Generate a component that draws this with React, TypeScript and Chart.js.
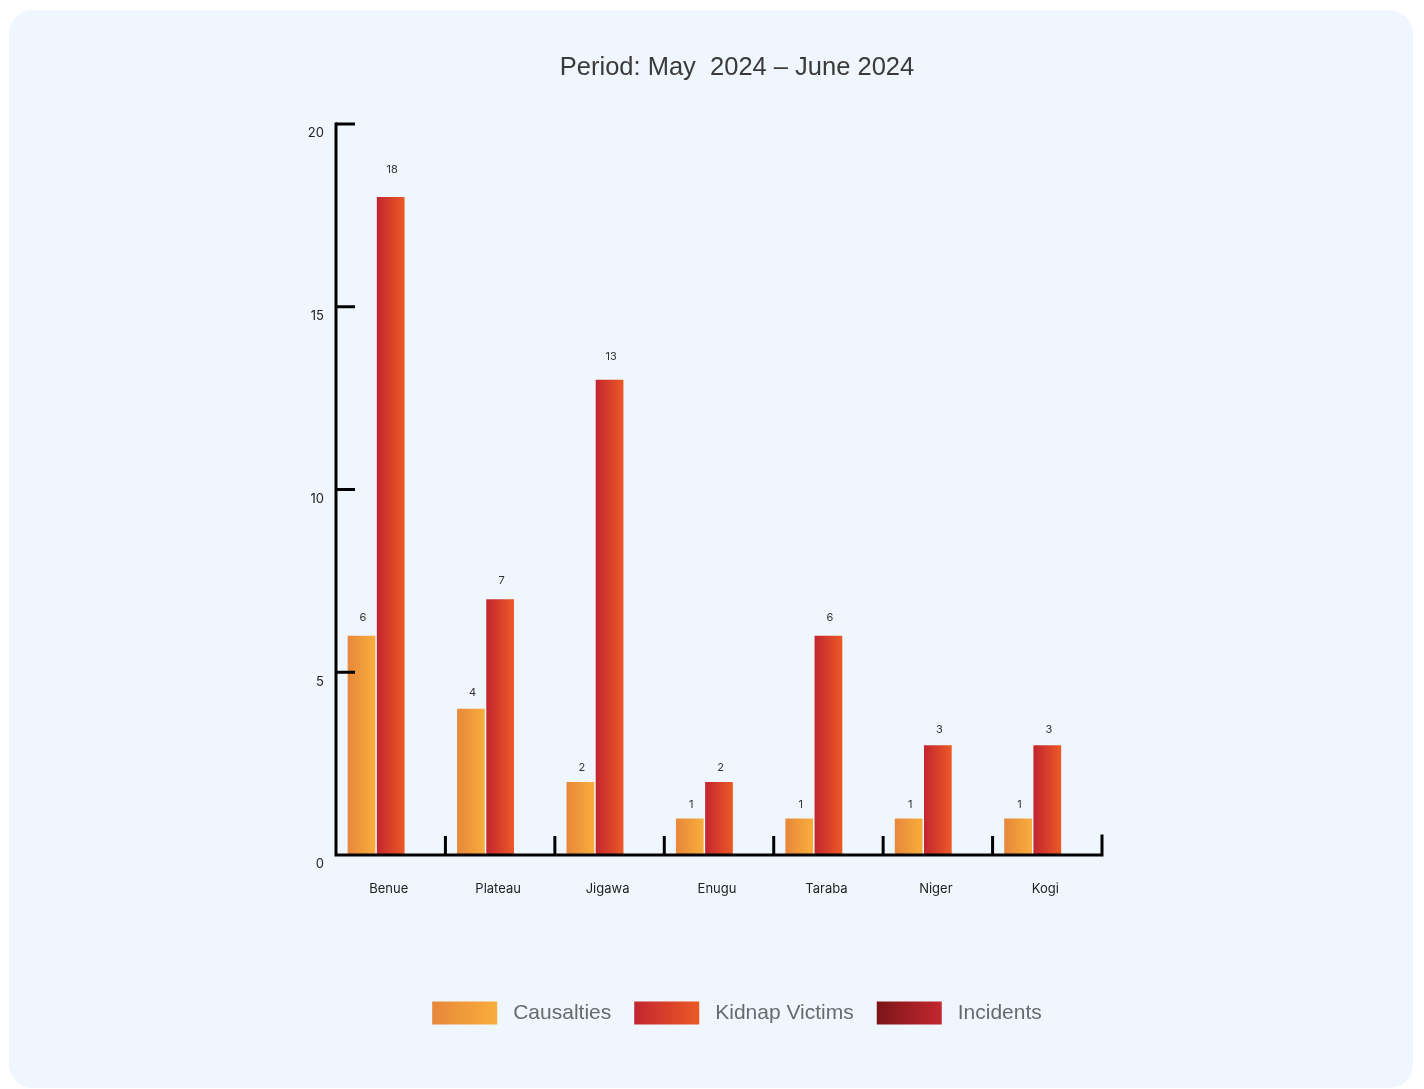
import { useEffect, useRef } from "react";
import { Chart, registerables } from "chart.js";

Chart.register(...registerables);

const states = ["Benue", "Plateau", "Jigawa", "Enugu", "Taraba", "Niger", "Kogi"];
const casualties = [6, 4, 2, 1, 1, 1, 1];
const kidnapVictims = [18, 7, 13, 2, 6, 3, 3];
const incidents = [0, 0, 0, 0, 0, 0, 0];
const yTickValues = [5, 10, 15, 20];
const seriesNames = ["Causalties", "Kidnap Victims", "Incidents"];
const seriesGradients: [string, string][] = [
  ["#E8873A", "#F8AE3C"],
  ["#C3252F", "#EC5A26"],
  ["#7B1518", "#C4272F"],
];
const titleText = "Period: May  2024 – June 2024";

const CANVAS_W = 1404;
const CANVAS_H = 1078;
const CENTER_X = 728;

// Horizontal gradient fill across each bar's own width
const barGradientPlugin = {
  id: "barGradient",
  beforeDatasetsDraw(chart: any) {
    const ctx = chart.ctx;
    chart.data.datasets.forEach((_: any, di: number) => {
      const meta = chart.getDatasetMeta(di);
      const [c0, c1] = seriesGradients[di];
      meta.data.forEach((el: any) => {
        const { x, width } = el.getProps(["x", "width"], true);
        const g = ctx.createLinearGradient(x - width / 2, 0, x + width / 2, 0);
        g.addColorStop(0, c0);
        g.addColorStop(1, c1);
        el.options = { ...el.options, backgroundColor: g };
      });
    });
  },
};

// Axis lines with inward tick marks, value labels, title and legend
const decorPlugin = {
  id: "decor",
  afterDatasetsDraw(chart: any) {
    const ctx = chart.ctx;
    const { left, right, top, bottom } = chart.chartArea;
    const xs = chart.scales.x;
    const ys = chart.scales.y;
    const tickLen = 19;

    ctx.save();
    ctx.strokeStyle = "#000";
    ctx.lineWidth = 3;
    ctx.lineCap = "square";
    ctx.beginPath();
    ctx.moveTo(left, top);
    ctx.lineTo(left, bottom);
    ctx.lineTo(right, bottom);
    ctx.lineTo(right, bottom - tickLen);
    ctx.stroke();

    ctx.lineCap = "butt";
    yTickValues.forEach((v) => {
      const py = ys.getPixelForValue(v);
      ctx.beginPath();
      ctx.moveTo(left, py);
      ctx.lineTo(left + tickLen, py);
      ctx.stroke();
    });
    for (let i = 1; i < states.length; i++) {
      const px = (xs.getPixelForValue(i - 1) + xs.getPixelForValue(i)) / 2;
      ctx.beginPath();
      ctx.moveTo(px, bottom);
      ctx.lineTo(px, bottom - tickLen);
      ctx.stroke();
    }

    // value labels above bars
    ctx.fillStyle = "#333";
    ctx.font = "11px Inter, 'Noto Sans', sans-serif";
    ctx.textAlign = "center";
    ctx.textBaseline = "middle";
    chart.data.datasets.forEach((ds: any, di: number) => {
      const meta = chart.getDatasetMeta(di);
      meta.data.forEach((el: any, i: number) => {
        const v = ds.data[i];
        if (!v) return;
        const { x, y } = el.getProps(["x", "y"], true);
        ctx.fillText(String(v), x + 1.5, y - (13 + 0.8 * v));
      });
    });
    ctx.restore();
  },
  afterDraw(chart: any) {
    const ctx = chart.ctx;
    ctx.save();
    // title
    ctx.fillStyle = "#3a3a3a";
    ctx.font = "25.5px 'Liberation Sans', Arial, sans-serif";
    ctx.textAlign = "center";
    ctx.textBaseline = "middle";
    ctx.fillText(titleText, CENTER_X, 57.5);

    // legend
    const boxW = 65;
    const boxH = 23;
    const boxGap = 16;
    const itemGap = 23;
    const legendY = 1003;
    ctx.font = "21px 'Liberation Sans', Arial, sans-serif";
    const widths = seriesNames.map((n) => boxW + boxGap + ctx.measureText(n).width);
    const total = widths.reduce((a, b) => a + b, 0) + itemGap * (seriesNames.length - 1);
    let x = CENTER_X - total / 2;
    seriesNames.forEach((name, i) => {
      const [c0, c1] = seriesGradients[i];
      const g = ctx.createLinearGradient(x, 0, x + boxW, 0);
      g.addColorStop(0, c0);
      g.addColorStop(1, c1);
      ctx.fillStyle = g;
      ctx.fillRect(x, legendY - boxH / 2, boxW, boxH);
      ctx.fillStyle = "#676a6e";
      ctx.textAlign = "left";
      ctx.textBaseline = "middle";
      ctx.fillText(name, x + boxW + boxGap, legendY);
      x += widths[i] + itemGap;
    });
    ctx.restore();
  },
};

export default function App() {
  const canvasRef = useRef<HTMLCanvasElement | null>(null);

  useEffect(() => {
    document.body.style.overflow = "hidden";
    const canvas = canvasRef.current;
    if (!canvas) return;
    const seriesData = [casualties, kidnapVictims, incidents];
    const chart = new Chart(canvas, {
      type: "bar",
      data: {
        labels: states,
        datasets: seriesNames.map((name, i) => ({
          label: name,
          data: seriesData[i],
          backgroundColor: seriesGradients[i][1],
          borderWidth: 0,
          categoryPercentage: 0.8,
          barPercentage: 0.95,
        })),
      },
      options: {
        responsive: false,
        animation: false,
        devicePixelRatio: 1,
        layout: { padding: { left: 267, right: 311, top: 114, bottom: 173 } },
        plugins: {
          legend: { display: false },
          title: { display: false },
          tooltip: { enabled: false },
        },
        scales: {
          x: {
            offset: true,
            grid: { display: false, drawTicks: false },
            border: { display: false },
            ticks: {
              padding: 26,
              labelOffset: -2,
              color: "#222",
              font: { family: "Inter, 'Noto Sans', sans-serif", size: 13 },
            },
            afterFit: (s: any) => {
              s.height = 60;
            },
          },
          y: {
            min: 0,
            max: 20,
            grid: { display: false, drawTicks: false },
            border: { display: false },
            ticks: {
              stepSize: 5,
              padding: 12,
              labelOffset: 9.5,
              color: "#222",
              font: { family: "Inter, 'Noto Sans', sans-serif", size: 13 },
            },
            afterFit: (s: any) => {
              s.width = 60;
            },
          },
        },
      },
      plugins: [barGradientPlugin, decorPlugin],
    });
    return () => chart.destroy();
  }, []);

  return (
    <div
      style={{
        position: "fixed",
        left: 9,
        top: 10,
        width: CANVAS_W,
        height: CANVAS_H,
        borderRadius: 24,
        background: "#EFF6FD",
        overflow: "hidden",
      }}
    >
      <canvas ref={canvasRef} width={CANVAS_W} height={CANVAS_H} style={{ display: "block" }} />
    </div>
  );
}
